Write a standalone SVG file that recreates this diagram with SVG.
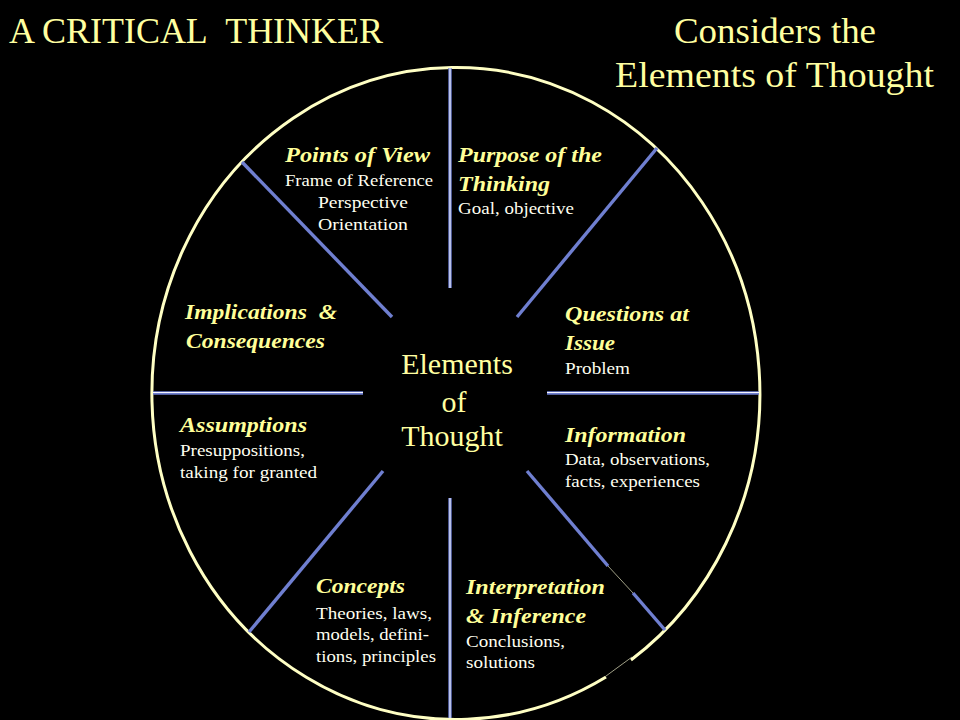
<svg xmlns="http://www.w3.org/2000/svg" width="960" height="720" viewBox="0 0 960 720">
<style>
.rim{fill:none;stroke:#ffffc4;stroke-width:3}
.spokeB{stroke:#6f7fd0;stroke-width:3.4;fill:none}
.spokeW{stroke:#f4f6ff;stroke-width:1.1;fill:none}
.thin{stroke:#c8c8a8;stroke-width:0.8;fill:none}
</style>
<rect x="0" y="0" width="960" height="720" fill="#000000"/>

<g id="titles">
<text style="font-family:'Times New Roman',serif" font-family="Times New Roman" font-size="36" fill="#ffffa0" x="9" y="43" textLength="374" lengthAdjust="spacingAndGlyphs">A CRITICAL&#160; THINKER</text>
<text style="font-family:'Times New Roman',serif" font-family="Times New Roman" font-size="36" fill="#ffffa0" x="674" y="43" textLength="202" lengthAdjust="spacingAndGlyphs">Considers the</text>
<text style="font-family:'Times New Roman',serif" font-family="Times New Roman" font-size="36" fill="#ffffa0" x="615" y="87" textLength="319" lengthAdjust="spacingAndGlyphs">Elements of Thought</text>
</g>

<g id="wheel-rim">
<path class="rim" d="M 631 660 A 304 326 0 1 0 606 677"/>
<line class="thin" x1="632" y1="657" x2="606" y2="676"/>
</g>

<g id="connectors">
<g class="spokeB">
<line x1="450" y1="68" x2="450" y2="288"/>
<line x1="450" y1="498" x2="450" y2="718"/>
<line x1="153" y1="393" x2="363" y2="393"/>
<line x1="547" y1="393" x2="759" y2="393"/>
<line x1="242" y1="162" x2="392" y2="317"/>
<line x1="657" y1="148" x2="517" y2="317"/>
<line x1="249" y1="632" x2="383" y2="471"/>
<line x1="527" y1="471" x2="608" y2="566"/>
<line x1="633" y1="593" x2="665" y2="630"/>
</g>
<g class="spokeW">
<line x1="450" y1="68" x2="450" y2="288"/>
<line x1="450" y1="498" x2="450" y2="718"/>
<line x1="153" y1="392.5" x2="363" y2="392.5"/>
<line x1="547" y1="392.5" x2="759" y2="392.5"/>
</g>
<line class="thin" x1="608" y1="566" x2="633" y2="593"/>
</g>

<g id="node-center">
<text style="font-family:'Times New Roman',serif" font-family="Times New Roman" font-size="30" fill="#ffffa0" x="457" y="374" text-anchor="middle">Elements</text>
<text style="font-family:'Times New Roman',serif" font-family="Times New Roman" font-size="30" fill="#ffffa0" x="454" y="412" text-anchor="middle">of</text>
<text style="font-family:'Times New Roman',serif" font-family="Times New Roman" font-size="30" fill="#ffffa0" x="452" y="446" text-anchor="middle">Thought</text>
</g>

<g id="node-points-of-view">
<text style="font-family:'Times New Roman',serif" font-family="Times New Roman" fill="#ffff99" font-size="21" font-weight="bold" font-style="italic" x="285" y="162" textLength="145" lengthAdjust="spacingAndGlyphs">Points of View</text>
<text style="font-family:'Times New Roman',serif" font-family="Times New Roman" fill="#fffff0" font-size="17" x="285" y="186" textLength="148" lengthAdjust="spacingAndGlyphs">Frame of Reference</text>
<text style="font-family:'Times New Roman',serif" font-family="Times New Roman" fill="#fffff0" font-size="17" x="318" y="208" textLength="90" lengthAdjust="spacingAndGlyphs">Perspective</text>
<text style="font-family:'Times New Roman',serif" font-family="Times New Roman" fill="#fffff0" font-size="17" x="318" y="230" textLength="90" lengthAdjust="spacingAndGlyphs">Orientation</text>
</g>

<g id="node-purpose">
<text style="font-family:'Times New Roman',serif" font-family="Times New Roman" fill="#ffff99" font-size="21" font-weight="bold" font-style="italic" x="458" y="162" textLength="144" lengthAdjust="spacingAndGlyphs">Purpose of the</text>
<text style="font-family:'Times New Roman',serif" font-family="Times New Roman" fill="#ffff99" font-size="21" font-weight="bold" font-style="italic" x="458" y="191" textLength="92" lengthAdjust="spacingAndGlyphs">Thinking</text>
<text style="font-family:'Times New Roman',serif" font-family="Times New Roman" fill="#fffff0" font-size="17" x="458" y="214" textLength="116" lengthAdjust="spacingAndGlyphs">Goal, objective</text>
</g>

<g id="node-implications">
<text style="font-family:'Times New Roman',serif" font-family="Times New Roman" fill="#ffff99" font-size="21" font-weight="bold" font-style="italic" x="185" y="319" textLength="152" lengthAdjust="spacingAndGlyphs">Implications&#160; &amp;</text>
<text style="font-family:'Times New Roman',serif" font-family="Times New Roman" fill="#ffff99" font-size="21" font-weight="bold" font-style="italic" x="186" y="348" textLength="139" lengthAdjust="spacingAndGlyphs">Consequences</text>
</g>

<g id="node-assumptions">
<text style="font-family:'Times New Roman',serif" font-family="Times New Roman" fill="#ffff99" font-size="21" font-weight="bold" font-style="italic" x="180" y="432" textLength="127" lengthAdjust="spacingAndGlyphs">Assumptions</text>
<text style="font-family:'Times New Roman',serif" font-family="Times New Roman" fill="#fffff0" font-size="17" x="180" y="456" textLength="125" lengthAdjust="spacingAndGlyphs">Presuppositions,</text>
<text style="font-family:'Times New Roman',serif" font-family="Times New Roman" fill="#fffff0" font-size="17" x="180" y="478" textLength="137" lengthAdjust="spacingAndGlyphs">taking for granted</text>
</g>

<g id="node-questions">
<text style="font-family:'Times New Roman',serif" font-family="Times New Roman" fill="#ffff99" font-size="21" font-weight="bold" font-style="italic" x="565" y="321" textLength="124" lengthAdjust="spacingAndGlyphs">Questions at</text>
<text style="font-family:'Times New Roman',serif" font-family="Times New Roman" fill="#ffff99" font-size="21" font-weight="bold" font-style="italic" x="565" y="350" textLength="50" lengthAdjust="spacingAndGlyphs">Issue</text>
<text style="font-family:'Times New Roman',serif" font-family="Times New Roman" fill="#fffff0" font-size="17" x="565" y="374" textLength="65" lengthAdjust="spacingAndGlyphs">Problem</text>
</g>

<g id="node-information">
<text style="font-family:'Times New Roman',serif" font-family="Times New Roman" fill="#ffff99" font-size="21" font-weight="bold" font-style="italic" x="565" y="442" textLength="121" lengthAdjust="spacingAndGlyphs">Information</text>
<text style="font-family:'Times New Roman',serif" font-family="Times New Roman" fill="#fffff0" font-size="17" x="565" y="465" textLength="145" lengthAdjust="spacingAndGlyphs">Data, observations,</text>
<text style="font-family:'Times New Roman',serif" font-family="Times New Roman" fill="#fffff0" font-size="17" x="565" y="487" textLength="135" lengthAdjust="spacingAndGlyphs">facts, experiences</text>
</g>

<g id="node-concepts">
<text style="font-family:'Times New Roman',serif" font-family="Times New Roman" fill="#ffff99" font-size="21" font-weight="bold" font-style="italic" x="316" y="593" textLength="89" lengthAdjust="spacingAndGlyphs">Concepts</text>
<text style="font-family:'Times New Roman',serif" font-family="Times New Roman" fill="#fffff0" font-size="17" x="316" y="619" textLength="116" lengthAdjust="spacingAndGlyphs">Theories, laws,</text>
<text style="font-family:'Times New Roman',serif" font-family="Times New Roman" fill="#fffff0" font-size="17" x="316" y="640" textLength="113" lengthAdjust="spacingAndGlyphs">models, defini-</text>
<text style="font-family:'Times New Roman',serif" font-family="Times New Roman" fill="#fffff0" font-size="17" x="316" y="662" textLength="120" lengthAdjust="spacingAndGlyphs">tions, principles</text>
</g>

<g id="node-interpretation">
<text style="font-family:'Times New Roman',serif" font-family="Times New Roman" fill="#ffff99" font-size="21" font-weight="bold" font-style="italic" x="466" y="594" textLength="139" lengthAdjust="spacingAndGlyphs">Interpretation</text>
<text style="font-family:'Times New Roman',serif" font-family="Times New Roman" fill="#ffff99" font-size="21" font-weight="bold" font-style="italic" x="466" y="623" textLength="120" lengthAdjust="spacingAndGlyphs">&amp; Inference</text>
<text style="font-family:'Times New Roman',serif" font-family="Times New Roman" fill="#fffff0" font-size="17" x="466" y="647" textLength="99" lengthAdjust="spacingAndGlyphs">Conclusions,</text>
<text style="font-family:'Times New Roman',serif" font-family="Times New Roman" fill="#fffff0" font-size="17" x="466" y="668" textLength="69" lengthAdjust="spacingAndGlyphs">solutions</text>
</g>
</svg>
